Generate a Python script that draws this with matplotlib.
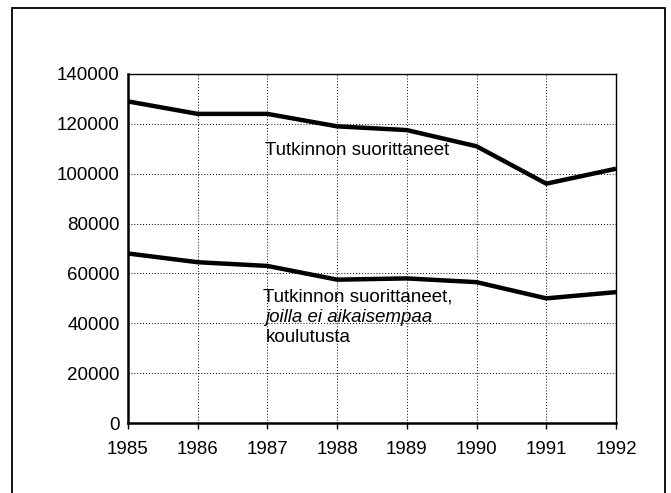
import matplotlib
matplotlib.use("Agg")
import matplotlib.pyplot as plt
from matplotlib.patches import Rectangle

years = [1985, 1986, 1987, 1988, 1989, 1990, 1991, 1992]
all_graduates = [129000, 124000, 124000, 119000, 117500, 111000, 96000, 102000]
first_degree = [68000, 64500, 63000, 57500, 58000, 56500, 50000, 52500]
y_ticks = [0, 20000, 40000, 60000, 80000, 100000, 120000, 140000]

plt.rcParams["font.family"] = ["Liberation Sans", "DejaVu Sans"]

fig = plt.figure(figsize=(6.71, 4.93), dpi=100)
# scanned page frame (bottom edge falls outside the picture)
fig.patches.append(Rectangle((12 / 671, -0.05), 653 / 671, 1.05 - 8 / 493,
                             transform=fig.transFigure, fill=False,
                             edgecolor="black", lw=1.3))

ax = fig.add_axes([128 / 671, 1 - 423 / 493, 488 / 671, 349 / 493])
ax.plot(years, all_graduates, color="black", lw=3.2, solid_capstyle="butt")
ax.plot(years, first_degree, color="black", lw=3.2, solid_capstyle="butt")

ax.set_xlim(1985, 1992)
ax.set_ylim(0, 140000)
ax.set_xticks(years)
ax.set_yticks(y_ticks)
ax.set_yticklabels([str(v) for v in y_ticks])
ax.tick_params(axis="x", labelsize=13.5, length=4, width=1, direction="out", pad=9)
ax.tick_params(axis="y", labelsize=13.5, length=0, pad=6)
ax.grid(True, color="black", ls=(0, (1, 2)), lw=0.7)
for side in ["left", "bottom"]:
    ax.spines[side].set_linewidth(1.8)
for side in ["top", "right"]:
    ax.spines[side].set_linewidth(1.0)

fs = 13.5
ax.text(1986.97, 109500, "Tutkinnon suorittaneet", fontsize=fs,
        ha="left", va="center")
ax.text(1986.93, 50500, "Tutkinnon suorittaneet,", fontsize=fs,
        ha="left", va="center")
ax.text(1986.97, 42500, "joilla ei aikaisempaa", fontsize=fs,
        style="italic", ha="left", va="center")
ax.text(1986.97, 34100, "koulutusta", fontsize=fs, ha="left", va="center")

fig.savefig("out.png", dpi=100)
